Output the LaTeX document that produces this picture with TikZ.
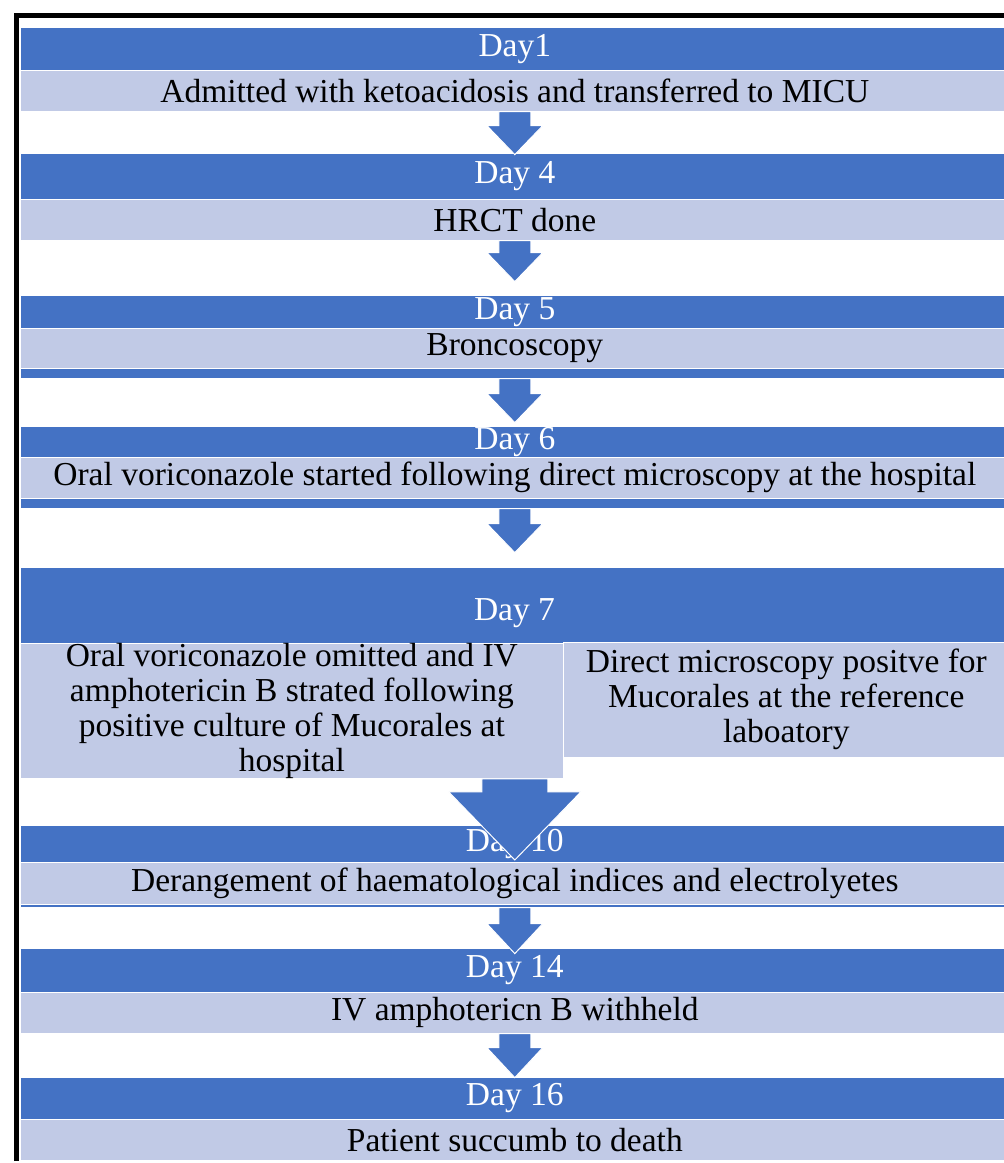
\documentclass[tikz,border=0pt]{standalone}
\usepackage{fontspec}
\setmainfont{Liberation Serif}
\usetikzlibrary{calc}
\definecolor{dayblue}{RGB}{68,114,196}
\definecolor{daylight}{RGB}{193,202,230}
\tikzset{
  bar/.style={rectangle, anchor=north west, inner sep=0pt, minimum width=989,
    draw=white, line width=.6pt, font=\fontsize{33.5}{35}\selectfont},
  darkbar/.style={bar, fill=dayblue, text=white},
  lightbar/.style={bar, fill=daylight, text=black},
  daytext/.style={text=white, inner sep=0pt, font=\fontsize{33.5}{35}\selectfont},
}
% block arrow: from, to, half shaft, half head, shaft length, head length
\newcommand\blockarrow[6]{%
  \path[fill=dayblue, draw=white, line width=1pt] let \p1=(#1.south), \p2=(#2.north) in
    (\x2-#3pt,\y1) -- (\x2-#3pt,\y1-#5pt) -- (\x2-#4pt,\y1-#5pt) -- (\x2,\y1-#5pt-#6pt)
    -- (\x2+#4pt,\y1-#5pt) -- (\x2+#3pt,\y1-#5pt) -- (\x2+#3pt,\y1) -- cycle;}
\begin{document}
\begin{tikzpicture}[x=1pt, y=-1pt]
\useasboundingbox (0,0) rectangle (1004,1163);
\foreach \n/\day/\t/\m/\b/\s/\txt in {
  1/Day1/27/70/111/0/Admitted with ketoacidosis and transferred to MICU,
  4/Day 4/153/199/240/0/HRCT done,
  5/Day 5/295/328/368/10/Broncoscopy,
  6/Day 6/426/457/498/10/Oral voriconazole started following direct microscopy at the hospital,
  10/Day 10/825/862/904/3/Derangement of haematological indices and electrolyetes,
  14/Day 14/948/992/1033/0/IV amphotericn B withheld,
  16/Day 16/1077/1119/1160/0/Patient succumb to death}
{
  \ifnum\s>0
    \node[darkbar, minimum height=\b-\t+\s] (s\n) at (20,\t) {};
  \fi
  \node[darkbar, minimum height=\m-\t] (d\n) at (20,\t) {\day};
  \node[lightbar, minimum height=\b-\m] (l\n) at (20,\m) {\txt};
}
% day 7, two boxes side by side
\node[darkbar, minimum height=76] (d7) at (20,567) {};
\node[daytext] (t7) at (514.5,613) {Day 7};
\node[lightbar, minimum width=446, minimum height=115, align=center] (r7) at (563,642)
  {Direct microscopy positve for\\ Mucorales at the reference\\ laboatory};
\node[lightbar, minimum width=543, minimum height=119, align=center] (l7) at (20,643)
  {Oral voriconazole omitted and IV\\ amphotericin B strated following\\ positive culture of Mucorales at\\ hospital};

\blockarrow{l1}{d4}{16}{28}{14}{29}
\blockarrow{l4}{d5}{16}{28}{12}{29}
\blockarrow{s5}{d6}{16}{28}{15}{29}
\blockarrow{s6}{d7}{16}{28}{15}{29}
\blockarrow{l7}{d10}{33}{66}{13}{68}
\blockarrow{s10}{d14}{16}{28}{16}{30}
\blockarrow{l14}{d16}{16}{28}{14}{30}

\draw[line width=5pt] (16.5,1161) -- (16.5,15.5) -- (1004,15.5);
\end{tikzpicture}
\end{document}
